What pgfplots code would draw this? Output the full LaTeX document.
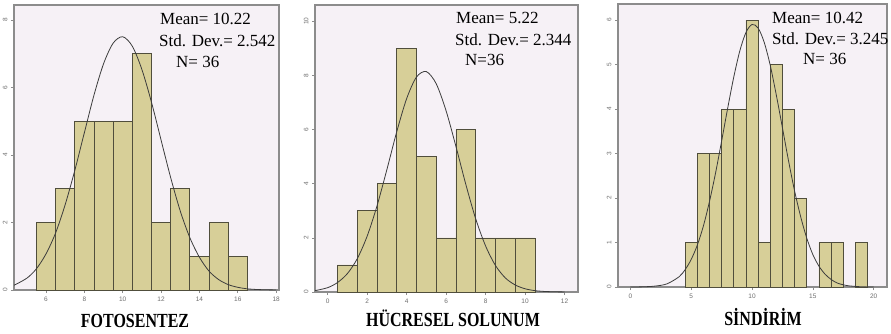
\documentclass[border=0pt]{standalone}
\usepackage{fontspec}
\setmainfont{Liberation Serif}
\newfontfamily\tickfont{Liberation Sans}
\usepackage{pgfplots}
\pgfplotsset{compat=1.18}
\definecolor{bgc}{RGB}{246,241,246}
\definecolor{barc}{RGB}{215,207,152}
\definecolor{edgec}{RGB}{80,78,60}
\definecolor{framec}{RGB}{140,140,140}
\definecolor{tickc}{RGB}{110,110,110}
\definecolor{curvec}{RGB}{60,60,60}
\begin{document}
\begin{tikzpicture}
\path[use as bounding box] (0pt,0pt) rectangle (891pt,-333pt);
\pgfplotsset{hist/.style={scale only axis, anchor=south west,
  axis background/.style={fill=bgc},
  axis line style={draw=framec, line width=1.2pt},
  tick align=outside, tick pos=left, major tick length=3pt,
  tick style={draw=framec, line width=0.6pt},
  /pgf/number format/assume math mode=true,
  ticklabel style={font=\tickfont\fontsize{6.5}{7}\selectfont, text=tickc},
  yticklabel style={rotate=90, anchor=south},
  ymin=0, clip=true}}
\pgfplotsset{bars/.style={ybar, bar width=1, fill=barc, draw=edgec, line width=0.7pt},
  curve/.style={smooth, line width=0.8pt, color=curvec, mark=none}}
% Panel 1
\begin{axis}[hist, at={(14pt,-290pt)}, width=265pt, height=285pt,
  xmin=4.33, xmax=18.15, ymax=8.44, xtick={6,8,...,18}, ytick={0,2,...,8}]
\addplot[bars] coordinates {(6,2)(7,3)(8,5)(9,5)(10,5)(11,7)(12,2)(13,3)(14,1)(15,2)(16,1)};
\addplot[curve] coordinates {(4.33,0.14)(5,0.35)(5.5,0.63)(6,1.07)(6.5,1.69)(7,2.53)(7.5,3.54)(8,4.66)(8.5,5.77)(9,6.70)(9.5,7.31)(10,7.50)(10.5,7.22)(11,6.53)(11.5,5.56)(12,4.44)(12.5,3.33)(13,2.34)(13.5,1.55)(14,0.97)(14.5,0.56)(15,0.31)(15.5,0.16)(16,0.08)(16.5,0.035)(17,0.015)(17.5,0.006)(18,0.002)};
\end{axis}
% Panel 2
\begin{axis}[hist, at={(315pt,-292pt)}, width=263pt, height=287pt,
  xmin=-0.64, xmax=12.68, ymax=10.6, xtick={0,2,...,12}, ytick={0,2,...,10}]
\addplot[bars] coordinates {(1,1)(2,3)(3,4)(4,9)(5,5)(6,2)(7,6)(8,2)(9,2)(10,2)};
\addplot[curve] coordinates {(-0.64,0.05)(0,0.16)(0.5,0.35)(1,0.68)(1.5,1.23)(2,2.06)(2.5,3.18)(3,4.52)(3.5,5.92)(4,7.14)(4.5,7.94)(5,8.14)(5.5,7.69)(6,6.69)(6.5,5.37)(7,3.97)(7.5,2.70)(8,1.70)(8.5,0.98)(9,0.52)(9.5,0.26)(10,0.12)(10.5,0.05)(11,0.02)(11.5,0.008)(12,0.003)};
\end{axis}
% Panel 3
\begin{axis}[hist, at={(618pt,-287pt)}, width=269pt, height=283pt,
  xmin=-1.02, xmax=21.1, ymax=6.36, xtick={0,5,...,20}, ytick={0,1,...,6}]
\addplot[bars] coordinates {(5,1)(6,3)(7,3)(8,4)(9,4)(10,6)(11,1)(12,5)(13,4)(14,2)(16,1)(17,1)(19,1)};
\addplot[curve] coordinates {(0,0.001)(1,0.004)(2,0.02)(3,0.07)(4,0.23)(4.5,0.39)(5,0.62)(5.5,0.94)(6,1.37)(6.5,1.92)(7,2.56)(7.5,3.28)(8,4.02)(8.5,4.72)(9,5.31)(9.5,5.72)(10,5.90)(10.5,5.82)(11,5.50)(11.5,4.98)(12,4.31)(12.5,3.58)(13,2.84)(13.5,2.16)(14,1.58)(14.5,1.10)(15,0.73)(15.5,0.47)(16,0.29)(16.5,0.17)(17,0.09)(17.5,0.05)(18,0.025)(19,0.005)(20,0.001)};
\end{axis}
% annotations
\begin{scope}[every node/.style={anchor=base west, inner sep=0pt, font=\fontsize{17}{20}\selectfont}]
\node at (160pt,-24pt) {Mean= 10.22};
\node at (159pt,-46pt) {Std. Dev.= 2.542};
\node at (176pt,-67pt) {N= 36};
\node at (456pt,-23pt) {Mean= 5.22};
\node at (455pt,-45pt) {Std. Dev.= 2.344};
\node at (465pt,-65pt) {N=36};
\node at (772pt,-23pt) {Mean= 10.42};
\node at (772pt,-44pt) {Std. Dev.= 3.245};
\node at (803pt,-64pt) {N= 36};
\end{scope}
\begin{scope}[every node/.style={anchor=base, inner sep=0pt, yscale=1.25, font=\bfseries\fontsize{16}{18}\selectfont}]
\node at (135pt,-327pt) {FOTOSENTEZ};
\node at (453pt,-326pt) {HÜCRESEL SOLUNUM};
\node at (763pt,-325pt) {SİNDİRİM};
\end{scope}
\end{tikzpicture}
\end{document}
